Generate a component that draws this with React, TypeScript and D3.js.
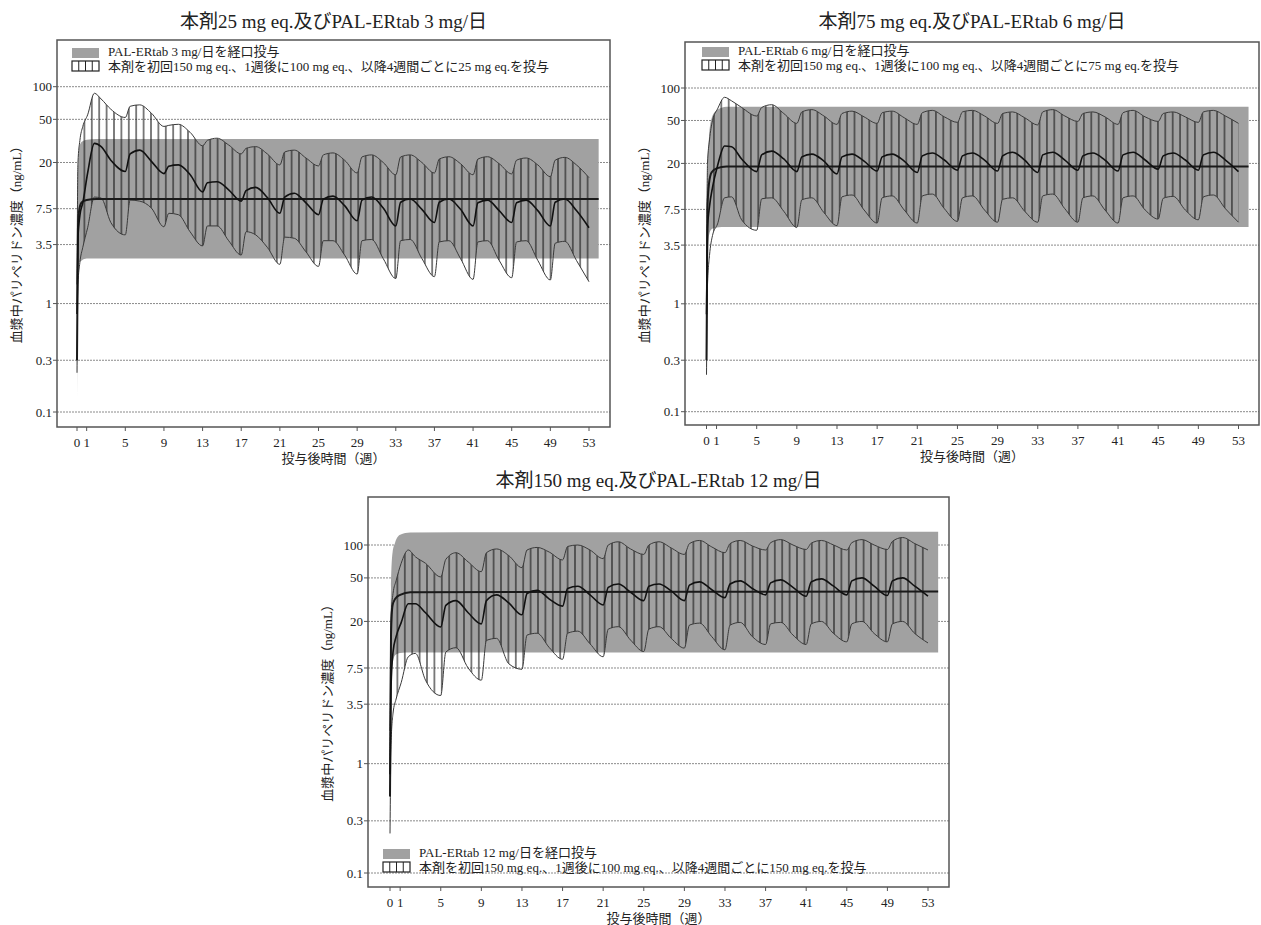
import React from 'react'
import * as d3 from 'd3'

// time grid (weeks) shared by the injection series
const weeks = [
  0, 0.1, 0.3, 0.6, 1.1, 1.8, 2.5, 3.5,
  5, 5.5, 6.5, 7.7, 9, 9.5, 10.5, 11.7, 13, 13.5, 14.5, 15.7, 17, 17.5, 18.5, 19.7,
  21, 21.5, 22.5, 23.7, 25, 25.5, 26.5, 27.7, 29, 29.5, 30.5, 31.7, 33, 33.5, 34.5, 35.7,
  37, 37.5, 38.5, 39.7, 41, 41.5, 42.5, 43.7, 45, 45.5, 46.5, 47.7, 49, 49.5, 50.5, 51.7,
  53,
]
// time grid for the oral (PAL-ERtab) band
const oralWeeks = [0, 0.1, 0.25, 0.5, 1, 2, 54]

const yTicks = [0.1, 0.3, 1, 3.5, 7.5, 20, 50, 100]
const yTickLabels = ['0.1', '0.3', '1', '3.5', '7.5', '20', '50', '100']
const xTicks = [0, 1, 5, 9, 13, 17, 21, 25, 29, 33, 37, 41, 45, 49, 53]

// 25 mg eq. / PAL-ERtab 3 mg
const inj25Upper = [
  1.5, 20, 32, 43, 55, 87, 77, 62,
  52, 66, 68, 57, 43, 44, 45, 38, 28.5, 32, 33.5, 29, 24, 27, 28, 24,
  19, 25, 26, 22, 18.6, 23.5, 24.5, 21, 16, 22.5, 23.5, 20, 15.4, 22.5, 23.5, 20,
  16, 21.5, 22.6, 19.5, 15.4, 21.5, 22.6, 19.5, 15.7, 21, 22, 19, 14.8, 21, 22.3, 19,
  14.5,
]
const inj25Median = [
  0.8, 4, 6.5, 8.5, 16, 30, 28, 21,
  16.5, 24, 26, 20.5, 15.8, 18.5, 19, 15.5, 10.7, 13, 13.3, 11.2, 8.8, 11, 11.8, 9.5,
  6.8, 9.6, 10.4, 8.5, 6.6, 9.2, 9.8, 8, 5.8, 9, 9.6, 7.6, 5.2, 8.6, 9.2, 7.4,
  5.6, 8.6, 9.2, 7.4, 5.2, 8.5, 9, 7.2, 5.6, 8.5, 9, 7.2, 5.2, 8.6, 9.2, 7.2,
  5,
]
const inj25Lower = [
  0.23, 1.5, 2.4, 3.3, 5, 9.6, 9.4, 5.6,
  4.3, 9, 8.8, 7.6, 5.1, 6.8, 6.6, 4.6, 3.4, 5.2, 5.2, 3.8, 2.8, 4.6, 4.3, 3.3,
  2.3, 4.1, 4, 3, 2.2, 3.8, 3.8, 2.8, 1.87, 3.8, 3.9, 2.6, 1.7, 3.8, 3.9, 2.6,
  1.77, 3.7, 3.8, 2.6, 1.67, 3.7, 3.8, 2.5, 1.73, 3.7, 3.8, 2.5, 1.65, 3.6, 3.75, 2.5,
  1.59,
]
const oral3Upper = [0.5, 18, 28, 31, 32.5, 33, 33]
const oral3Median = [0.3, 5, 7.5, 8.6, 9, 9.2, 9.2]
const oral3Lower = [0.12, 1.8, 2.4, 2.5, 2.6, 2.6, 2.6]

// 75 mg eq. / PAL-ERtab 6 mg
const inj75Upper = [
  1.5, 20, 33, 50, 64, 82, 76, 66,
  55, 66, 70, 58, 47, 60, 63, 55, 46, 58, 61, 54, 47, 59, 61, 53,
  46, 59, 62, 54, 48, 60, 62, 55, 47, 58, 60, 53, 45.5, 60, 63, 55,
  49, 58, 60, 54, 46, 59, 62, 54, 49, 58, 60, 54, 48, 60, 62, 55,
  47,
]
const inj75Median = [
  0.8, 5, 8, 12, 19, 29, 28.5, 22,
  16.8, 24, 26, 22, 16.8, 23, 24.4, 21, 16, 23, 24.4, 21, 17, 23, 24.4, 21,
  16.5, 23.5, 25, 21.5, 17.3, 23.5, 25, 21.5, 17, 23.5, 25.4, 21.5, 16.5, 24, 25.4, 21.5,
  17.3, 23.5, 25, 21.5, 17, 24, 25.4, 21.5, 17.7, 23.5, 25, 21.5, 17.3, 24, 25.4, 21.5,
  16.8,
]
const inj75Lower = [
  0.22, 1.5, 2.8, 4.3, 5.5, 9.6, 9.8, 6,
  4.8, 9.4, 9.6, 7.2, 5.1, 9.2, 9.6, 7, 5.3, 9.8, 10.2, 7.4, 5.6, 9.6, 10, 7.4,
  5.6, 10, 10.4, 7.6, 5.8, 9.6, 10, 7.4, 5.7, 9.3, 9.6, 7.2, 5.7, 10, 10.4, 7.6,
  5.7, 9.6, 10, 7.4, 5.6, 9.6, 10, 7.4, 6.1, 9.5, 9.9, 7.4, 6, 9.8, 10.2, 7.6,
  5.7,
]
const oral6Upper = [0.5, 15, 35, 52, 62, 67, 67]
const oral6Median = [0.3, 8, 13, 16.5, 18, 18.7, 18.7]
const oral6Lower = [0.22, 2.5, 4.3, 4.9, 5.1, 5.15, 5.15]

// 150 mg eq. / PAL-ERtab 12 mg
const inj150Upper = [
  2, 22, 36, 47, 68, 90, 78, 68,
  51, 74, 85, 70, 57, 85, 92, 80, 62, 90, 95, 86, 73, 97, 100, 90,
  75, 100, 107, 92, 82, 100, 107, 94, 82, 103, 110, 96, 85, 103, 110, 98,
  90, 105, 112, 100, 91, 104, 110, 100, 90, 105, 112, 100, 91, 108, 117, 103,
  90,
]
const inj150Median = [
  0.8, 5, 10.5, 14.5, 19.5, 29, 29, 24,
  17.8, 28, 31, 24, 19, 31, 35, 29.5, 23, 36, 38.6, 32, 27.6, 40, 42, 35,
  28.3, 41, 44, 37, 31, 42, 44, 38, 31, 43, 46, 39, 33, 44, 47, 40,
  35, 45, 48, 41, 34, 46, 49, 42, 35, 47, 50, 42, 34.5, 47, 50, 42,
  34,
]
const inj150Lower = [
  0.23, 1.5, 2.9, 3.9, 5.5, 9.5, 10.2, 5.8,
  4.2, 10.5, 11.5, 7.5, 5.8, 13.4, 14, 8.2, 7.3, 15, 15.6, 11.5, 9, 15.6, 16.3, 12.5,
  9.5, 17, 17.9, 13.5, 10.6, 17, 17.9, 14, 11.4, 18.5, 19.3, 14.5, 11, 18.5, 19.6, 14.5,
  12.3, 19, 19.6, 15, 12.3, 19, 20, 15.5, 13, 19, 20, 15.5, 13, 19, 20, 15.5,
  12.7,
]
const oral12Upper = [1, 40, 85, 105, 124, 130, 132]
const oral12Median = [0.5, 15, 28, 32, 35, 37, 37.5]
const oral12Lower = [0.25, 4, 8, 9.8, 10.3, 10.4, 10.4]

const font = "'Liberation Serif', 'Noto Sans CJK JP', serif"
const yTitle = '血漿中パリペリドン濃度（ng/mL）'
const xTitle = '投与後時間（週）'

const panels = [
  {
    id: 'p1',
    title: '本剤25 mg eq.及びPAL-ERtab 3 mg/日',
    legendOral: 'PAL-ERtab 3 mg/日を経口投与',
    legendInj: '本剤を初回150 mg eq.、1週後に100 mg eq.、以降4週間ごとに25 mg eq.を投与',
    upper: inj25Upper, median: inj25Median, lower: inj25Lower,
    oUpper: oral3Upper, oMedian: oral3Median, oLower: oral3Lower,
    box: [57, 610, 40, 427], xr: [77, 589], yr: [412, 86.7],
    legend: [72, 48], titleY: 28,
  },
  {
    id: 'p2',
    title: '本剤75 mg eq.及びPAL-ERtab 6 mg/日',
    legendOral: 'PAL-ERtab 6 mg/日を経口投与',
    legendInj: '本剤を初回150 mg eq.、1週後に100 mg eq.、以降4週間ごとに75 mg eq.を投与',
    upper: inj75Upper, median: inj75Median, lower: inj75Lower,
    oUpper: oral6Upper, oMedian: oral6Median, oLower: oral6Lower,
    box: [685, 1259, 42, 425], xr: [706.5, 1238.5], yr: [411.7, 88],
    legend: [702, 47], titleY: 28,
  },
  {
    id: 'p3',
    title: '本剤150 mg eq.及びPAL-ERtab 12 mg/日',
    legendOral: 'PAL-ERtab 12 mg/日を経口投与',
    legendInj: '本剤を初回150 mg eq.、1週後に100 mg eq.、以降4週間ごとに150 mg eq.を投与',
    upper: inj150Upper, median: inj150Median, lower: inj150Lower,
    oUpper: oral12Upper, oMedian: oral12Median, oLower: oral12Lower,
    box: [368, 949, 497, 887], xr: [390, 928], yr: [873, 545],
    legend: [383, 849], titleY: 487,
  },
]

function Panel({ p }) {
  const [bx0, bx1, by0, by1] = p.box
  const x = d3.scaleLinear().domain([0, 53]).range(p.xr)
  const y = d3.scaleLog().domain([0.1, 100]).range(p.yr)

  const oralArea = d3.area<number>()
    .x((_, i) => x(oralWeeks[i]))
    .y0((_, i) => y(p.oLower[i]))
    .y1(d => y(d))
    .curve(d3.curveMonotoneX)
  const oralLine = d3.line<number>()
    .x((_, i) => x(oralWeeks[i]))
    .y(d => y(d))
    .curve(d3.curveMonotoneX)
  const injArea = d3.area<number>()
    .x((_, i) => x(weeks[i]))
    .y0((_, i) => y(p.lower[i]))
    .y1(d => y(d))
    .curve(d3.curveMonotoneX)
  const injLine = d3.line<number>()
    .x((_, i) => x(weeks[i]))
    .y(d => y(d))
    .curve(d3.curveMonotoneX)

  const [lx, ly] = p.legend
  const cx = (bx0 + bx1) / 2

  return (
    <g fontFamily={font}>
      <defs>
        <clipPath id={`clip-${p.id}`}>
          <rect x={bx0} y={by0} width={bx1 - bx0} height={by1 - by0} />
        </clipPath>
        <pattern id={`hatch-${p.id}`} patternUnits="userSpaceOnUse" x={x(0) - 3.7} y={0} width={7.4} height={20}>
          <line x1={3.7} x2={3.7} y1={0} y2={20} stroke="#1a1a1a" strokeWidth={1.1} />
        </pattern>
      </defs>

      <text x={cx} y={p.titleY} textAnchor="middle" fontSize={19} fill="#222">{p.title}</text>

      {yTicks.map((t, i) => (
        <g key={t}>
          <line x1={bx0} x2={bx1} y1={y(t)} y2={y(t)} stroke="#8a8a8a" strokeWidth={1} strokeDasharray="2 1" />
          <line x1={bx0 - 4} x2={bx0} y1={y(t)} y2={y(t)} stroke="#555" />
          <text x={bx0 - 5} y={y(t)} dy="0.35em" textAnchor="end" fontSize={13} fill="#222">{yTickLabels[i]}</text>
        </g>
      ))}

      <g clipPath={`url(#clip-${p.id})`}>
        <path d={oralArea(p.oUpper)} fill="#a1a1a1" />
        <path d={injArea(p.upper)} fill={`url(#hatch-${p.id})`} />
        <path d={injLine(p.upper)} fill="none" stroke="#3a3a3a" strokeWidth={1} />
        <path d={injLine(p.lower)} fill="none" stroke="#3a3a3a" strokeWidth={1} />
        <path d={oralLine(p.oMedian)} fill="none" stroke="#1a1a1a" strokeWidth={2} />
        <path d={injLine(p.median)} fill="none" stroke="#111" strokeWidth={1.6} />
      </g>

      <rect x={bx0} y={by0} width={bx1 - bx0} height={by1 - by0} fill="none" stroke="#555" strokeWidth={1.5} />

      {xTicks.map(t => (
        <g key={t}>
          <line x1={x(t)} x2={x(t)} y1={by1} y2={by1 + 4} stroke="#555" />
          <text x={x(t)} y={by1 + 20} textAnchor="middle" fontSize={13} fill="#222">{t}</text>
        </g>
      ))}

      <text x={cx} y={by1 + 36} textAnchor="middle" fontSize={13} fill="#222">{xTitle}</text>
      <text
        transform={`translate(${bx0 - 41},${(by0 + by1) / 2 + 8}) rotate(-90)`}
        textAnchor="middle" dy="0.35em" fontSize={13} fill="#222"
      >{yTitle}</text>

      <rect x={lx} y={ly} width={27} height={10} fill="#a1a1a1" />
      <rect x={lx} y={ly + 13} width={27} height={10} fill="#fff" stroke="#222" strokeWidth={1.2} />
      {[1, 2, 3].map(k => (
        <line key={k} x1={lx + k * 6.75} x2={lx + k * 6.75} y1={ly + 13} y2={ly + 23} stroke="#222" />
      ))}
      <text x={lx + 36} y={ly + 8} fontSize={13} fill="#222">{p.legendOral}</text>
      <text x={lx + 36} y={ly + 23} fontSize={13} fill="#222">{p.legendInj}</text>
    </g>
  )
}

export default function App() {
  return (
    <svg width={1261} height={925} style={{ position: 'absolute', left: 0, top: 0, background: '#fff' }}>
      {panels.map(p => <Panel key={p.id} p={p} />)}
    </svg>
  )
}
